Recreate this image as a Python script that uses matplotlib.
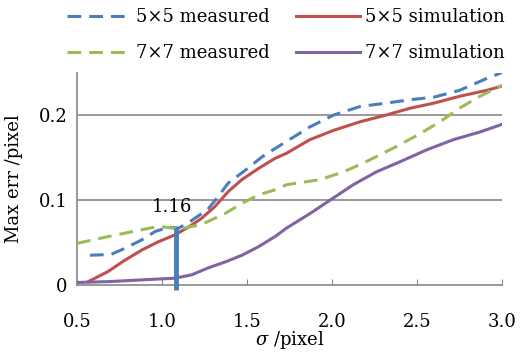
import matplotlib
matplotlib.use("Agg")
import matplotlib.pyplot as plt
from matplotlib.lines import Line2D

# Data
x_b = [0.576, 0.70, 0.78, 0.88, 0.96, 1.04, 1.10, 1.175, 1.27, 1.33, 1.39, 1.49, 1.59, 1.733, 1.87, 2.01, 2.165, 2.32, 2.46, 2.6, 2.75, 2.91, 3.0]
y_b = [0.035, 0.036, 0.043, 0.053, 0.063, 0.068, 0.067, 0.076, 0.089, 0.104, 0.120, 0.135, 0.151, 0.169, 0.186, 0.200, 0.210, 0.214, 0.218, 0.221, 0.229, 0.243, 0.250]

x_r = [0.567, 0.684, 0.78, 0.88, 0.98, 1.076, 1.155, 1.23, 1.31, 1.39, 1.47, 1.567, 1.665, 1.733, 1.87, 2.01, 2.165, 2.32, 2.46, 2.6, 2.75, 2.91, 3.0]
y_r = [0.004, 0.016, 0.029, 0.041, 0.051, 0.059, 0.068, 0.078, 0.092, 0.110, 0.124, 0.137, 0.149, 0.155, 0.171, 0.182, 0.192, 0.200, 0.208, 0.214, 0.222, 0.229, 0.234]

x_g = [0.5, 0.684, 0.88, 0.98, 1.10, 1.23, 1.37, 1.47, 1.567, 1.665, 1.733, 1.93, 2.067, 2.2, 2.36, 2.5, 2.635, 2.75, 2.87, 3.0]
y_g = [0.049, 0.057, 0.065, 0.069, 0.066, 0.071, 0.084, 0.096, 0.106, 0.112, 0.118, 0.124, 0.133, 0.145, 0.161, 0.176, 0.192, 0.208, 0.222, 0.235]

x_p = [0.5, 0.684, 0.88, 1.076, 1.175, 1.27, 1.37, 1.47, 1.567, 1.665, 1.733, 1.87, 1.99, 2.125, 2.26, 2.4, 2.557, 2.714, 2.87, 3.0]
y_p = [0.003, 0.004, 0.006, 0.008, 0.012, 0.020, 0.027, 0.035, 0.045, 0.057, 0.067, 0.084, 0.100, 0.118, 0.133, 0.145, 0.159, 0.171, 0.180, 0.189]

marker_x = 1.08
marker_top = 0.067
marker_label = "1.16"

labels = ["5\u00d75 measured", "5\u00d75 simulation", "7\u00d77 measured", "7\u00d77 simulation"]
xticks = [0.5, 1.0, 1.5, 2.0, 2.5, 3.0]
xticklabels = ["0.5", "1.0", "1.5", "2.0", "2.5", "3.0"]
yticks = [0, 0.1, 0.2]
yticklabels = ["0", "0.1", "0.2"]

blue = "#4a7ebb"
red = "#c0504d"
green = "#9bbb59"
purple = "#8064a2"
gray = "#888888"

plt.rcParams['font.family'] = ['DejaVu Serif']
plt.rcParams['mathtext.fontset'] = 'dejavuserif'

fig = plt.figure(figsize=(5.32, 3.53), dpi=100)
ax = fig.add_axes([0.1447, 0.1926, 0.7989, 0.602])

lw = 2.2
dash = (4.5, 2.6)
ax.plot(x_b, y_b, color=blue, lw=lw, dashes=dash, zorder=3)
ax.plot(x_r, y_r, color=red, lw=lw, zorder=3)
ax.plot(x_g, y_g, color=green, lw=lw, dashes=dash, zorder=3)
ax.plot(x_p, y_p, color=purple, lw=lw, zorder=3)

ax.plot([marker_x, marker_x], [-0.006, marker_top], color=blue, lw=3.5,
        solid_capstyle='butt', zorder=4, clip_on=False)
ax.text(marker_x - 0.02, 0.081, marker_label, ha='center', va='bottom', fontsize=13)

ax.set_xlim(0.5, 3.0)
ax.set_ylim(0, 0.25)
ax.set_xticks(xticks)
ax.set_xticklabels(xticklabels)
ax.set_yticks(yticks)
ax.set_yticklabels(yticklabels)
for yv in yticks[1:]:
    ax.axhline(yv, color=gray, lw=1.2, zorder=1)

ax.tick_params(axis='x', direction='in', length=4, color=gray, labelsize=13, pad=20)
ax.tick_params(axis='y', length=0, labelsize=13, pad=7)
for s in ['top', 'right']:
    ax.spines[s].set_visible(False)
for s in ['left', 'bottom']:
    ax.spines[s].set_color(gray)
    ax.spines[s].set_linewidth(1.2)

ax.set_xlabel(r"$\sigma$ /pixel", fontsize=13, labelpad=-1)
ax.set_ylabel("Max err /pixel", fontsize=13, labelpad=11)

handles = [
    Line2D([], [], color=blue, lw=lw, dashes=dash),
    Line2D([], [], color=green, lw=lw, dashes=dash),
    Line2D([], [], color=red, lw=lw),
    Line2D([], [], color=purple, lw=lw),
]
hl = [labels[0], labels[2], labels[1], labels[3]]
fig.legend(handles, hl, ncol=2, frameon=False, fontsize=13,
           loc='upper left', bbox_to_anchor=(67 / 532, 1 - 8 / 353), borderpad=0,
           borderaxespad=0, handlelength=3.5, handletextpad=0.3,
           columnspacing=1.5, labelspacing=1.0)

fig.savefig("out.png", dpi=100)
